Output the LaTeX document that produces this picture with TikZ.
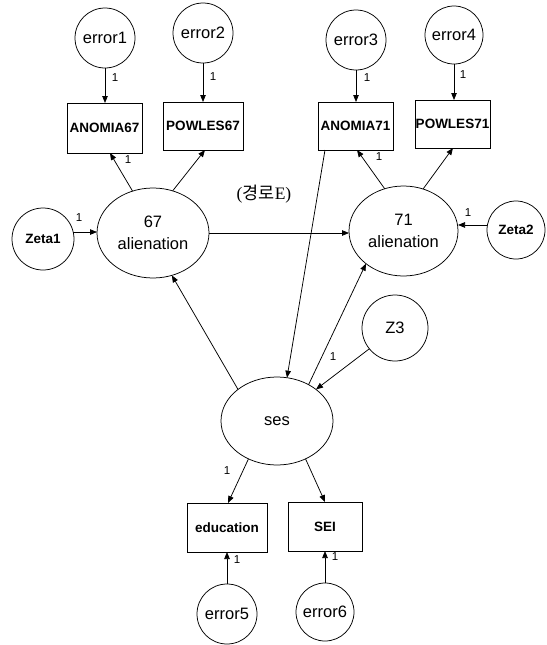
\documentclass[tikz,border=0pt]{standalone}
\usepackage{fontspec}
\setmainfont{Liberation Sans}
\newfontfamily\romanfont{Liberation Serif}
\newfontfamily\hangulfont{Noto Sans CJK KR}
\usetikzlibrary{shapes.geometric,arrows.meta}

\begin{document}
\begin{tikzpicture}[x=1pt,y=-1pt,
  every node/.style={inner sep=0pt, outer sep=0pt},
  errc/.style={circle, draw, line width=0.75pt, minimum size=#1,
    font=\fontsize{16.5}{19}\selectfont},
  zetac/.style={circle, draw, line width=0.75pt, minimum size=#1,
    font=\fontsize{13.5}{16}\selectfont\bfseries},
  latent/.style 2 args={ellipse, draw, line width=0.75pt,
    minimum width=#1, minimum height=#2, align=center,
    font=\fontsize{16.5}{21.5}\selectfont},
  obs/.style 2 args={rectangle, draw, line width=0.75pt,
    minimum width=#1, minimum height=#2,
    font=\fontsize{13.5}{16}\selectfont\bfseries},
  conn/.style={draw, line width=0.75pt, -{Triangle[length=7pt,width=5.5pt]}},
  plain/.style={draw, line width=0.75pt},
  lbl/.style={font=\fontsize{11.5}{13}\selectfont},
]
\useasboundingbox (0,0) rectangle (546,645);

% error terms of the indicators
\node[errc=60] (e1) at (105,38) {error1};
\node[errc=60] (e2) at (203,33) {error2};
\node[errc=60] (e3) at (356,40) {error3};
\node[errc=58] (e4) at (454,35) {error4};
\node[errc=60] (e5) at (227,614) {error5};
\node[errc=58] (e6) at (325,612) {error6};

% observed variables
\node[obs={75}{50}] (A67) at (104.5,128) {ANOMIA67};
\node[obs={80}{48}] (P67) at (203,126) {POWLES67};
\node[obs={75}{48}] (A71) at (355.5,126) {ANOMIA71};
\node[obs={75}{48}] (P71) at (452.5,124) {POWLES71};
\node[obs={80}{49}] (edu) at (227,527.5) {education};
\node[obs={74}{49}] (sei) at (325,526.5) {SEI};

% latent variables
\node[latent={112}{90}] (L67) at (153,233) {67\\alienation};
\node[latent={109}{90}] (L71) at (403.5,231) {71\\alienation};
\node[latent={112}{88}] (ses) at (277,421) {ses};

% disturbances
\node[zetac=62] (z1) at (43,239) {Zeta1};
\node[zetac=58] (z2) at (516,230) {Zeta2};
\node[errc=66] (z3) at (395,328) {Z3};

% path label
\node[font=\fontsize{17.5}{20}\selectfont] (pathE) at (264,194)
  {\romanfont(\hangulfont 경로\romanfont E)};

% measurement errors
\draw[conn] (e1.south) -- (e1.south |- A67.north);
\draw[conn] (e2.south) -- (e2.south |- P67.north);
\draw[conn] (e3.south) -- (e3.south |- A71.north);
\draw[conn] (e4.south) -- (e4.south |- P71.north);
\draw[conn] (e5.north) -- (e5.north |- edu.south);
\draw[conn] (e6.north) -- (e6.north |- sei.south);

% loadings
\draw[conn] (L67.116) -- ([xshift=5.5pt]A67.south);
\draw[conn] (L67.65) -- ([xshift=2pt]P67.south);
\draw[conn] (L71.114) -- ([xshift=1.5pt]A71.south);
\draw[conn] (L71.65) -- ([xshift=0.5pt]P71.south);
\draw[conn] (ses.233) -- ([xshift=1pt]edu.north);
\draw[conn] (ses.307) -- (sei.north);

% disturbances into latent variables
\draw[conn] (z1.13) -- (z1.13 -| L67.west);
\draw[conn] (z2.170) -- (z2.170 -| L71.east);
\draw[conn] (z3.219) -- (ses.39);

% structural paths
\draw[conn] (L67.east) -- (L67.east -| L71.west);
\draw[conn] (ses.141) -- (L67.294);
\draw[conn] (ses.49) -- (L71.221);
\draw[conn] ([xshift=7pt]A71.south west) -- (ses.77);

% fixed coefficients
\node[lbl] (k1) at (115,78) {1};
\node[lbl] (k2) at (213,77) {1};
\node[lbl] (k3) at (367,78) {1};
\node[lbl] (k4) at (463,75) {1};
\node[lbl] (k5) at (128,160) {1};
\node[lbl] (k6) at (379,157) {1};
\node[lbl] (k7) at (79,218) {1};
\node[lbl] (k8) at (468,213) {1};
\node[lbl] (k9) at (333,357) {1};
\node[lbl] (k10) at (227,471) {1};
\node[lbl] (k11) at (237,560) {1};
\node[lbl] (k12) at (335,557) {1};
\end{tikzpicture}
\end{document}
